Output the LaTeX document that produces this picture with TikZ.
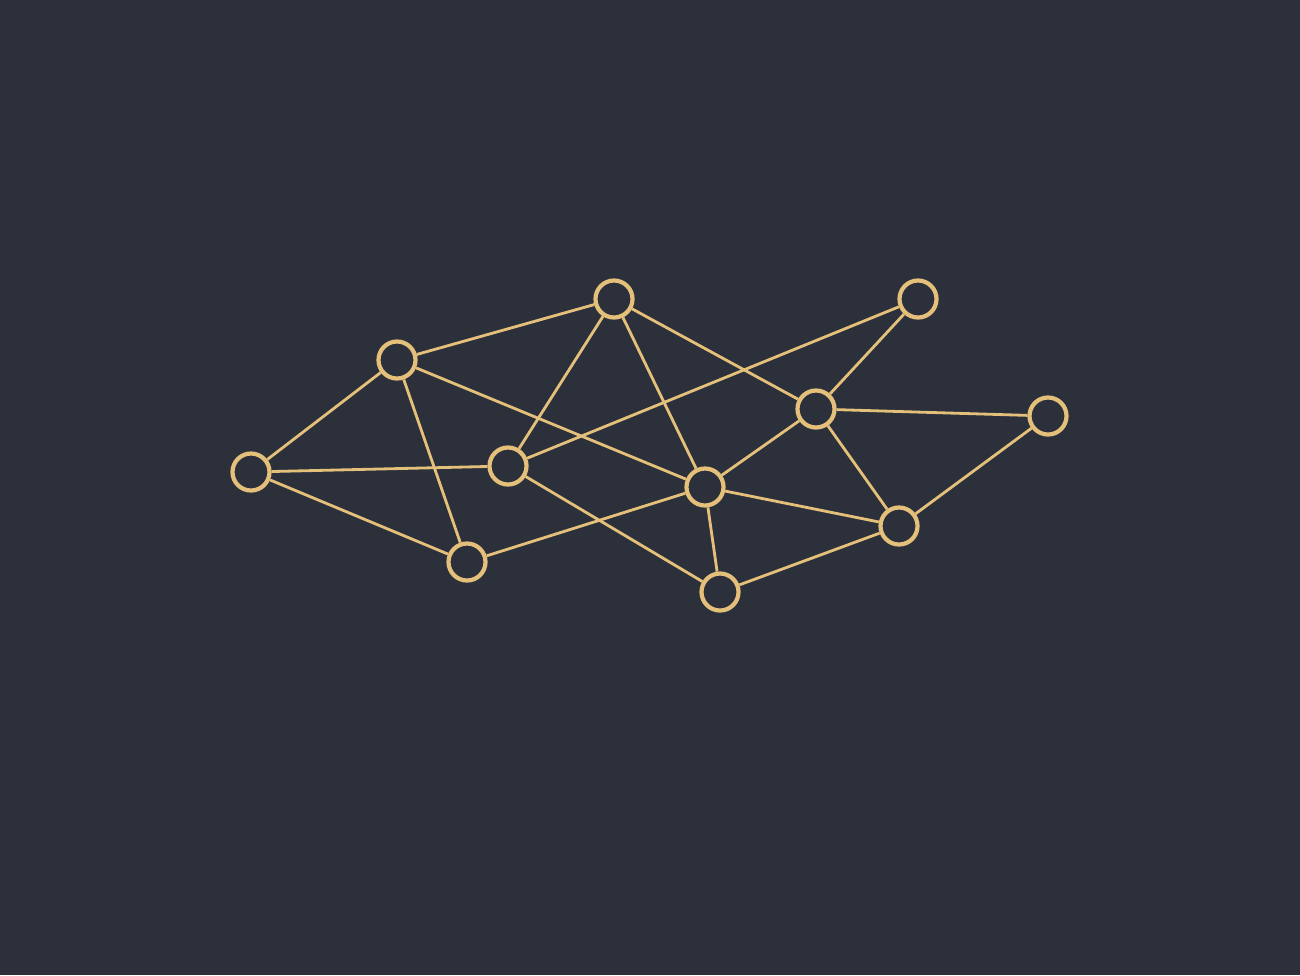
\documentclass[tikz,border=0pt]{standalone}
\definecolor{bgdark}{HTML}{2B303A}
\definecolor{gold}{HTML}{E5C07B}
\begin{document}
\begin{tikzpicture}[x=0.01cm, y=-0.01cm,
  vertex/.style={draw=gold, circle, line width=1.2pt, fill=bgdark, minimum size=0.37cm, inner sep=0pt},
  link/.style={draw=gold, line width=0.8pt}]
  \fill[bgdark] (0,0) rectangle (1300,975);
  \useasboundingbox (0,0) rectangle (1300,975);
  \node[vertex] (n1) at (251,472) {};
  \node[vertex] (n2) at (397,360) {};
  \node[vertex] (n3) at (614,299) {};
  \node[vertex] (n4) at (918,299) {};
  \node[vertex] (n5) at (508,466) {};
  \node[vertex] (n6) at (816,409) {};
  \node[vertex] (n7) at (1048,416) {};
  \node[vertex] (n8) at (705,487) {};
  \node[vertex] (n9) at (467,562) {};
  \node[vertex] (n10) at (899,526) {};
  \node[vertex] (n11) at (720,592) {};
  \draw[link] (n1) -- (n2);
  \draw[link] (n1) -- (n5);
  \draw[link] (n1) -- (n9);
  \draw[link] (n2) -- (n3);
  \draw[link] (n2) -- (n9);
  \draw[link] (n2) -- (n8);
  \draw[link] (n3) -- (n5);
  \draw[link] (n3) -- (n8);
  \draw[link] (n3) -- (n6);
  \draw[link] (n4) -- (n5);
  \draw[link] (n4) -- (n6);
  \draw[link] (n5) -- (n11);
  \draw[link] (n9) -- (n8);
  \draw[link] (n8) -- (n6);
  \draw[link] (n8) -- (n10);
  \draw[link] (n8) -- (n11);
  \draw[link] (n6) -- (n7);
  \draw[link] (n6) -- (n10);
  \draw[link] (n7) -- (n10);
  \draw[link] (n11) -- (n10);
\end{tikzpicture}
\end{document}
